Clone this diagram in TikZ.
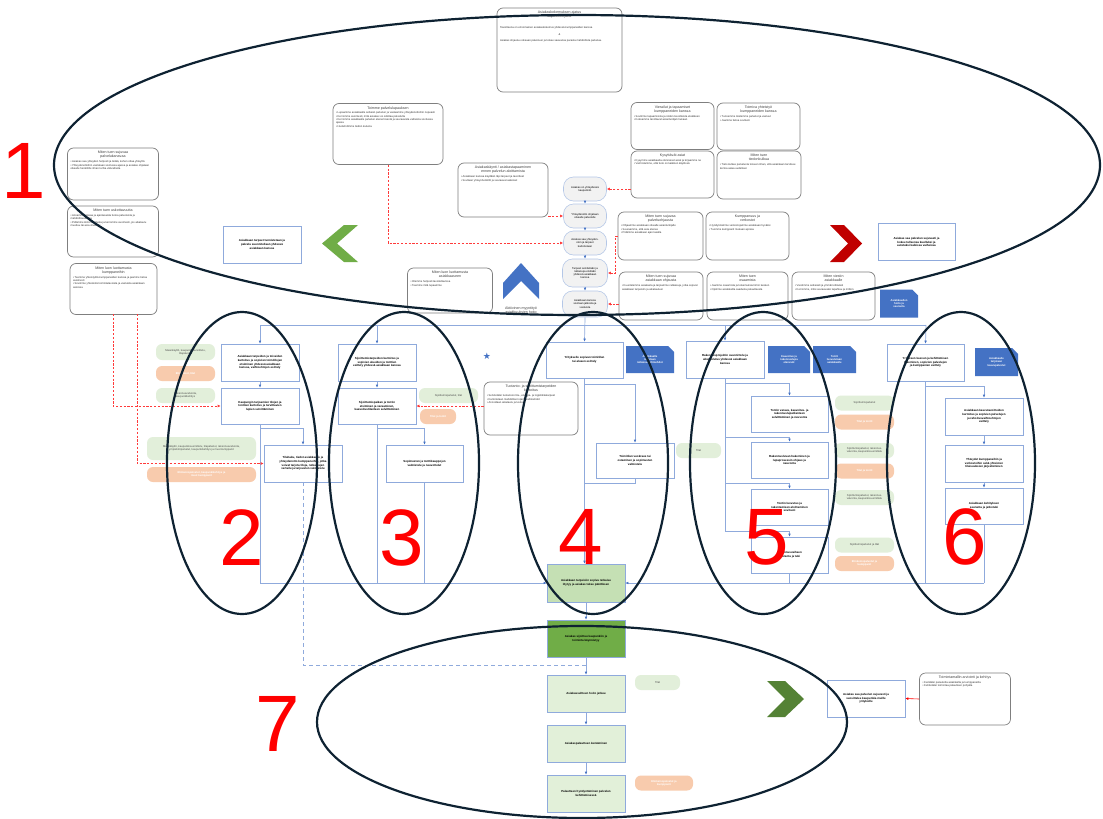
\documentclass[tikz,border=0pt]{standalone}
\usepackage{fontspec}
\setmainfont{Liberation Sans}
\newfontfamily\symfont{DejaVu Sans}
\usetikzlibrary{arrows.meta,shapes.misc,calc}

\definecolor{flowline}{HTML}{8FAADC}
\definecolor{flowarrow}{HTML}{4472C4}
\definecolor{boxgray}{HTML}{7F7F7F}
\definecolor{headgray}{HTML}{404040}
\definecolor{pillgreen}{HTML}{E2EFDA}
\definecolor{pillorange}{HTML}{F8CBAD}
\definecolor{docblue}{HTML}{4472C4}
\definecolor{ringnavy}{HTML}{0E2232}
\definecolor{greenA}{HTML}{C5E0B4}
\definecolor{greenB}{HTML}{70AD47}
\definecolor{greenC}{HTML}{E2F0D9}
\definecolor{chevgreen}{HTML}{70AD47}
\definecolor{chevdark}{HTML}{548235}
\definecolor{chevred}{HTML}{C00000}
\definecolor{pillgray}{HTML}{F2F2F2}
\definecolor{pillrim}{HTML}{B4C7E7}
\definecolor{dashred}{HTML}{FF3B3B}

\newcommand{\ftiny}{\fontsize{2.7}{3.3}\selectfont}
\newcommand{\fflow}{\fontsize{2.9}{3.6}\selectfont\bfseries}
\newcommand{\fhead}{\fontsize{3.6}{4.3}\selectfont}
% rounded info box body: width, height, heading, bullet lines
\newcommand{\gbx}[4]{\parbox[c][\dimexpr#2pt-6pt\relax][t]{\dimexpr#1pt-6pt\relax}{\centering\color{headgray}\fhead #3\par\vspace{1.5pt}\raggedright\ftiny\color{black!80}#4\par}}

\begin{document}
\begin{tikzpicture}[x=1pt,y=-1pt,
  fbox/.style 2 args={draw=flowline, fill=white, line width=0.6pt, minimum width=#1pt, minimum height=#2pt, align=center, inner sep=1pt, font=\fflow},
  gbox/.style={draw=boxgray, line width=0.7pt, rounded corners=6pt, fill=white, inner sep=3pt},
  cpill/.style 2 args={draw=pillrim, fill=pillgray, line width=0.6pt, rounded corners=10pt, minimum width=#1pt, minimum height=#2pt, align=center, inner sep=1pt, font=\ftiny},
  gpill/.style 2 args={fill=pillgreen, rounded corners=6pt, minimum width=#1pt, minimum height=#2pt, align=center, inner sep=1pt, font=\ftiny, text=black!70},
  opill/.style 2 args={fill=pillorange, rounded corners=6pt, minimum width=#1pt, minimum height=#2pt, align=center, inner sep=1pt, font=\ftiny\bfseries, text=white},
  doc/.style 2 args={chamfered rectangle, chamfered rectangle corners=north east, chamfered rectangle xsep=3pt, chamfered rectangle ysep=3pt, fill=docblue, minimum width=#1pt, minimum height=#2pt, align=center, inner sep=0.5pt, font=\ftiny\bfseries, text=white},
  grbox/.style n args={3}{draw=flowline, fill=#3, line width=0.6pt, minimum width=#1pt, minimum height=#2pt, align=center, inner sep=1pt, font=\fflow},
  flow/.style={draw=flowline, line width=0.7pt, -{Latex[length=3pt,width=2.6pt,color=flowarrow]}},
  flowl/.style={draw=flowline, line width=0.7pt},
  rdash/.style={draw=dashred, line width=0.7pt, dash pattern=on 2.2pt off 1.6pt, -{Latex[length=3pt,width=2.8pt]}},
  ring/.style={draw=ringnavy, line width=2.2pt},
  digit/.style={text=red, font=\fontsize{80}{80}\selectfont, inner sep=0pt}
]
\useasboundingbox (0,0) rectangle (1103,819);
\fill[white] (0,0) rectangle (1103,819);

% ---------------- upper area: service promise and customer path ----------------
\node[gbox] (top) at (559.5,50) {\gbx{125}{84}{Asiakaskokemuksen ajatus\\kilpailutekijäksi}{\vspace{6pt}Tavoitteena on erinomainen asiakaskokemus yhdessä kumppaneiden kanssa\par\vspace{3pt}\centering\&\par\vspace{3pt}\raggedright Asiakas ohjautuu oikeaan palveluun ja kokee saavansa parasta mahdollista palvelua.}};

\node[gbox] (lupaus) at (388,134) {\gbx{110}{61}{Toimme palvelulupauksen}{• Lupaamme asiakkaalle selkeän palvelun ja vastaamme yhteydenottoihin nopeasti\par • Kerromme avoimesti, mitä asiakas voi odottaa palvelulta\par • Kerromme asiakkaalle palvelun etenemisestä ja seuraavista vaiheista sovitussa ajassa\par • Huolehdimme tiedon kulusta}};

\node[gbox] (a1) at (113,174) {\gbx{91}{52}{Miten tuen sujuvaa\\palvelukanavaa}{• Asiakas saa yhteyden helposti ja tietää, kehen ottaa yhteyttä\par • Yhteydenottoihin vastataan sovitussa ajassa ja asiakas ohjataan oikealle henkilölle ilman turhia välivaiheita}};
\node[gbox] (a2) at (113,231.5) {\gbx{91}{51}{Miten tuen uskottavuutta}{• Annamme oikeaa ja ajantasaista tietoa palveluista ja mahdollisuuksista\par • Pidämme kiinni sovitusta ja kerromme avoimesti, jos aikataulu muuttuu tai asia viivästyy}};
\node[gbox] (a3) at (113.5,289) {\gbx{87}{51}{Miten luon luottamusta\\kumppaneihin}{• Teemme yhteistyötä kumppaneiden kanssa ja jaamme tietoa avoimesti\par • Sovimme yhteisistä toimintatavoista ja vastuista asiakkaan asioissa}};

\node[fbox={78}{37}] (lbox) at (262,244.5) {Asiakkaan tarpeet tunnistetaan ja\\palvelu suunnitellaan yhdessä\\asiakkaan kanssa};
\fill[chevgreen] (344,225) -- (358,225) -- (337,243.5) -- (358,262) -- (344,262) -- (322,243.5) -- cycle;

\node[gbox] (kaynti) at (503,190) {\gbx{90}{54}{Asiakaskäynti / asiakastapaaminen\\ennen palvelun aloittamista}{• Asiakkaan kanssa käydään läpi tarpeet ja tavoitteet\par • Sovitaan yhteyshenkilöt ja seuraavat askeleet}};

\node[cpill={43}{24}] (p1) at (585,189) {Asiakas on yhteydessä\\kaupunkiin};
\node[cpill={43}{24}] (p2) at (585,216) {Yhteydenotto ohjataan\\oikealle palvelulle};
\node[cpill={43}{24}] (p3) at (585,243) {Asiakas saa yhteyden-\\oton ja tarpeet\\kartoitetaan};
\node[cpill={45}{28}] (p4) at (585,273) {Tarpeet selvitetään ja\\ratkaisuja etsitään\\yhdessä asiakkaan\\kanssa};
\node[cpill={45}{26}] (p5) at (585,304) {Asiakkaan kanssa\\sovitaan jatkosta ja\\vastuista};
\foreach \u/\v in {p1/p2,p2/p3,p3/p4,p4/p5} \draw[flow] (\u) -- (\v);

\node[gbox] (b1) at (672.5,126) {\gbx{83}{47}{Vierailut ja tapaamiset\\kumppaneiden kanssa}{• Sovimme tapaamisista ja niiden tavoitteista etukäteen\par • Kokoamme tarvittavat asiantuntijat mukaan}};
\node[gbox] (b2) at (758.5,126.5) {\gbx{83}{47}{Toimiva yhteistyö\\kumppaneiden kanssa}{• Tunnemme toistemme palvelut ja vastuut\par • Jaamme tietoa sovitusti}};
\node[gbox] (b3) at (672.5,174.5) {\gbx{83}{47}{Kysyttävät asiat}{• Kysymme asiakkaalta olennaiset asiat ja kirjaamme ne\par • Varmistamme, että tieto on kaikkien käytössä}};
\node[gbox] (b4) at (759,175) {\gbx{84}{48}{Miten tuen\\tiedonkulkua}{• Tieto kulkee palvelusta toiseen ilman, että asiakkaan tarvitsee kertoa asiaa uudelleen}};
\node[gbox] (b5) at (660.5,236) {\gbx{85}{48}{Miten tuen sujuvaa\\palveluohjausta}{• Ohjaamme asiakkaan oikealle asiantuntijalle\par • Seuraamme, että asia etenee\par • Pidämme asiakkaan ajan tasalla}};
\node[gbox] (b6) at (747.5,236) {\gbx{83}{48}{Kumppanuus ja\\verkostot}{• Hyödynnämme verkostojamme asiakkaan hyväksi\par • Tuomme kumppanit mukaan ajoissa}};
\node[gbox] (b7) at (661,296) {\gbx{84}{48}{Miten tuen sujuvaa\\asiakkaan ohjausta}{• Kuuntelemme asiakasta ja tarjoamme ratkaisuja, jotka sopivat asiakkaan tarpeisiin ja aikatauluun}};
\node[gbox] (b8) at (747.5,296) {\gbx{81}{48}{Miten tuen\\osaamista}{• Jaamme osaamista ja kokemuksia tiimin kesken\par • Opimme asiakkailta saadusta palautteesta}};
\node[gbox] (b9) at (833.5,296) {\gbx{83}{48}{Miten viestin\\asiakkaalle}{• Viestimme selkeästi ja ymmärrettävästi\par • Kerromme, mitä seuraavaksi tapahtuu ja milloin}};

\node[doc={38}{28}] (d0) at (899,303.5) {Asiakkuuden\\hoito ja\\seuranta};
\fill[chevred] (830,225) -- (844,225) -- (862,243.5) -- (844,262) -- (830,262) -- (848,243.5) -- cycle;
\node[fbox={77}{37}] (rbox) at (916.5,242) {Asiakas saa palvelun sujuvasti ja\\kokee tulleensa kuulluksi ja\\autetuksi kaikissa vaiheissa};

\node[gbox] (mieti) at (450,290.5) {\gbx{85}{45}{Miten luon luottamusta\\asiakkaaseen}{• Olemme helposti tavoitettavissa\par • Teemme mitä lupaamme}};
\fill[docblue] (503,283) -- (521,263) -- (539,283) -- (539,299) -- (521,281) -- (503,299) -- cycle;
\node[font=\fhead, text=headgray, align=center, inner sep=0pt] (myynti) at (521,310) {Aktiivinen myyntityö\\asiakkuuksien hoito};

% red dashed links from the guidance boxes to the customer path
\draw[rdash] (lupaus.south) |- (p3.west);
\draw[rdash] (kaynti.east |- p2.west) -- (p2.west);
\draw[rdash] (b3.west |- p1.east) -- (p1.east);
\draw[rdash] (b5.west) -| ($(p4.east)+(8,0)$) -- (p4.east);
\draw[rdash] (b7.west |- p5.east) -- (p5.east);

% ---------------- process lanes ----------------
\coordinate (t2) at (260,325);
\coordinate (t3) at (377,325);
\coordinate (t5) at (725,325);
\coordinate (t6) at (926,325);
\draw[flowl] (t2) -- (t6);

% lane 2
\node[fbox={78}{37}] (c2a) at (260,362.5) {Asiakkaan tarpeiden ja toiveiden\\kartoitus ja sopivien toimitilojen\\etsiminen yhdessä asiakkaan\\kanssa, vaihtoehtojen esittely};
\node[fbox={78}{36}] (c2b) at (260,406) {Kaupungin tarjoamien tilojen ja\\tonttien kartoitus ja tarvittavien\\lupien selvittäminen};
\node[fbox={78}{37}] (c2c) at (303,463.5) {Tilahaku, tiedot asiakkaalle ja\\yhteydenotto kumppaneihin, jotka\\voivat tarjota tiloja, ratkaisujen\\vertailu ja tarjousten valmistelu};
\node[gpill={59}{16}] (g2p1) at (185.5,352) {Maankäyttö, kaupunkisuunnittelu,\\tilapalvelut};
\node[opill={59}{15}] (o2p1) at (185.5,373.5) {Elinkeinot, tilat};
\node[gpill={59}{15}] (g2p2) at (185.5,395.5) {Rakennusvalvonta,\\kaupunkikehitys};
\node[gpill={109}{23}] (g2p3) at (201.5,448.5) {Maankäyttö, kaupunkisuunnittelu, tilapalvelut, rakennusvalvonta,\\ympäristöpalvelut, kaupunkikehitys ja muut kumppanit};
\node[opill={109}{15}] (o2p2) at (201.5,474.5) {Elinkeinopalvelut, kaupunkikehitys ja\\muut kumppanit};

% lane 3
\node[fbox={78}{37}] (c3a) at (377,362.5) {Sijoittumistarpeiden kartoitus ja\\sopivien alueiden ja tonttien\\esittely yhdessä asiakkaan kanssa};
\node[fbox={78}{36}] (c3b) at (377,406) {Sijoittumispaikan ja tontin\\etsiminen ja varaaminen,\\kaavoitustilanteen selvittäminen};
\node[fbox={77}{37}] (c3c) at (424.5,463.5) {Sopimusten ja tonttikauppojen\\valmistelu ja neuvottelut};
\node[gpill={59}{15}] (g3p1) at (448.5,395.5) {Sijoittumispalvelut, tilat};
\node[opill={36}{15}] (o3p1) at (438,416.5) {Tilat ja tontit};
\node[text=flowarrow, font=\symfont\fontsize{9}{9}\selectfont, inner sep=0pt] (star) at (487,356) {★};
\node[gbox] (tuho) at (531,408.5) {\gbx{94}{53}{Tuotanto- ja sijoittumistarpeiden\\kartoitus}{• Selvitetään tuotannon tila-, energia- ja logistiikkatarpeet\par • Kartoitetaan mahdolliset sijaintivaihtoehdot\par • Arvioidaan aikataulu ja luvitus}};

% lane 4
\node[fbox={77}{36}] (c4a) at (584.5,360) {Yritykselle sopivan toimitilan\\tai alueen esittely};
\node[doc={48}{27}] (d4) at (650,359.5) {Asiakkaalle\\tarjotaan\\ratkaisuvaihtoehdot};
\node[fbox={78}{35}] (c4b) at (635,460.5) {Toimitilan vuokraus tai\\ostaminen ja sopimusten\\valmistelu};
\node[gpill={45}{15}] (g4p1) at (698.5,450.5) {Tilat};

% lane 5
\node[fbox={78}{37}] (c5a) at (725,359.5) {Rakennusprojektin suunnittelu ja\\aikataulutus yhdessä asiakkaan\\kanssa};
\node[doc={42}{27}] (d5a) at (789,359.5) {Kaavoitus ja\\rakennuslupa\\etenevät};
\node[doc={43}{27}] (d5b) at (834.5,359.5) {Tontti\\luovutetaan\\asiakkaalle};
\node[fbox={77}{36}] (c5b) at (789.5,414) {Tontin varaus, kaavoitus- ja\\rakennuslupatilanteen\\selvittäminen ja neuvonta};
\node[fbox={77}{36}] (c5c) at (789.5,460) {Rakennusluvan hakeminen ja\\lupaprosessin ohjaus ja\\neuvonta};
\node[fbox={77}{36}] (c5d) at (789.5,507) {Tontin luovutus ja\\rakentamisen aloittaminen\\sovitusti};
\node[fbox={77}{36}] (c5e) at (789.5,555) {Rakennusvaiheen\\seuranta ja tuki};
\node[gpill={59}{15}] (g5p1) at (864.5,403) {Sijoittumispalvelut};
\node[opill={59}{15}] (o5p1) at (864.5,422) {Tilat ja tontit};
\node[gpill={59}{15}] (g5p2) at (864.5,450.5) {Sijoittumispalvelut, rakennus-\\valvonta, kaupunkisuunnittelu};
\node[opill={59}{15}] (o5p2) at (864.5,471) {Tilat ja tontit};
\node[gpill={59}{15}] (g5p3) at (864.5,497.5) {Sijoittumispalvelut, rakennus-\\valvonta, kaupunkisuunnittelu};
\node[gpill={59}{15}] (g5p4) at (864.5,545) {Sijoittumispalvelut ja tilat};
\node[opill={59}{15}] (o5p3) at (864.5,563.5) {Elinkeinopalvelut ja\\kumppanit};

% lane 6
\node[fbox={77}{37}] (c6a) at (925.5,362.5) {Yrityksen kasvun ja kehittämisen\\tukeminen, sopivien palvelujen\\ja kumppanien esittely};
\node[doc={43}{28}] (d6) at (996.5,362) {Asiakkaalle\\tarjotaan\\kasvupalvelut};
\node[fbox={78}{37}] (c6b) at (984,416.5) {Asiakkaan kasvutavoitteiden\\kartoitus ja sopivien palvelujen\\ja rahoitusvaihtoehtojen\\esittely};
\node[fbox={78}{37}] (c6c) at (984,463.5) {Yhteydet kumppaneihin ja\\verkostoihin sekä yhteisten\\tilaisuuksien järjestäminen};
\node[fbox={78}{36}] (c6d) at (984,506) {Asiakkaan kehityksen\\seuranta ja jatkotuki};

% ---------------- common end of the lanes ----------------
\node[grbox={78}{38}{greenA}] (g1) at (586,583) {Asiakkaan tarpeisiin sopiva ratkaisu\\löytyy ja asiakas tekee päätöksen};
\node[grbox={78}{37}{greenB}] (g2) at (586,638.5) {Asiakas sijoittuu kaupunkiin ja\\toiminta käynnistyy};
\node[grbox={78}{37}{greenC}] (g3) at (586,693.5) {Asiakassuhteen hoito jatkuu};
\node[grbox={78}{37}{greenC}] (g4) at (586,743.5) {Asiakaspalautteen kerääminen};
\node[grbox={78}{37}{greenC}] (g5) at (586,793.5) {Palautteen hyödyntäminen palvelun\\kehittämisessä};
\node[gpill={45}{15}] (g7p1) at (657.5,682.5) {Tilat};
\node[opill={58}{15}] (o7p1) at (664,783) {Elinkeinopalvelut ja\\kumppanit};
\fill[chevdark] (767,681) -- (785,681) -- (804,699) -- (785,717) -- (767,717) -- (785,699) -- cycle;
\node[fbox={78}{37}] (rb) at (866,698.5) {Asiakas saa palvelun sujuvasti ja\\suosittelee kaupunkia muille\\yrityksille};
\node[gbox] (toim) at (965,699) {\gbx{91}{52}{Toimintamallin arviointi ja kehitys}{• Kerätään palautetta asiakkailta ja kumppaneilta\par • Kehitetään toimintaa palautteen pohjalta}};
\draw[draw=red, line width=0.6pt, -{Latex[length=3pt,width=2.8pt]}] (toim.west) -- (rb.east);

% ---------------- connectors of the lanes ----------------
\draw[flow] (p5.south) -- (c4a.north);
\draw[flow] (t2) -- (c2a.north);
\draw[flow] (t3) -- (c3a.north);
\draw[flow] (t5) -- (c5a.north);
\draw[flow] (t6) -- (c6a.north);

\coordinate (u2) at (260,583);
\coordinate (u6) at (984,583);
\draw[flow] (c2a) -- (c2b);
\draw[flowl] (c2b.south) -- (u2);
\draw[flow] ($(c2b.south)+(0,4)$) -| (c2c.north);
\coordinate (j7) at (586,665);
\draw[flowl, dashed, dash pattern=on 4pt off 3pt] (c2c.south) |- (j7);

\draw[flow] (c3a) -- (c3b);
\draw[flowl] (c3b.south) -- (c3b.south |- u2);
\draw[flow] ($(c3b.south)+(0,4)$) -| (c3c.north);
\draw[flowl] (c3c.south) -- (c3c.south |- u2);

\draw[flow] (c4a.south) -- (c4a.south |- g1.north);
\draw[flow] ($(c4a.south)+(0,6)$) -| (c4b.north);
\draw[flowl] (c4b.south) -- ++(0,5) -| ($(c4a.south)+(0,105)$);

\draw[flowl] (c5a.south) -- (725,531);
\draw[flow] (725,383) -| (c5b.north);
\draw[flow] (725,437) -| (c5c.north);
\draw[flow] (725,483) -| (c5d.north);
\draw[flow] (725,531) -| (c5e.north);
\draw[flowl] (c5e.south) -- (c5e.south |- u2);

\draw[flowl] (c6a.south) -- (c6a.south |- u6);
\draw[flow] (926,386) -| (c6b.north);
\draw[flow] (c6b) -- (c6c);
\draw[flow] (c6c) -- (c6d);
\draw[flowl] (c6d.south) -- (u6);

\draw[flow] (u2) -- (g1.west);
\draw[flow] (u6) -- (g1.east);
\draw[flow] (g1) -- (g2);
\draw[flow] (g2) -- (g3);
\draw[flow] (g3) -- (g4);
\draw[flow] (g4) -- (g5);

% red dashed links into the lanes
\draw[rdash] (113,314) |- (c2b.west);
\draw[rdash] (137,314) |- (c2c.west);
\draw[rdash] (tuho.west |- c3b.east) -- (c3b.east);

% ---------------- phase rings and numbers ----------------
\draw[ring] (577,165) ellipse [x radius=523pt, y radius=150pt];
\draw[ring] (242,463) ellipse [x radius=75pt, y radius=151pt];
\draw[ring] (404,463) ellipse [x radius=75pt, y radius=151pt];
\draw[ring] (593,463) ellipse [x radius=75pt, y radius=151pt];
\draw[ring] (763,463) ellipse [x radius=73pt, y radius=151pt];
\draw[ring] (961,463) ellipse [x radius=74pt, y radius=151pt];
\draw[ring] (582,722) ellipse [x radius=265pt, y radius=96pt];

\node[digit] (n1) at (24,171) {1};
\node[digit] (n2) at (242,538) {2};
\node[digit] (n3) at (402,538) {3};
\node[digit] (n4) at (581,537) {4};
\node[digit] (n5) at (767,537) {5};
\node[digit] (n6) at (965,537) {6};
\node[digit] (n7) at (278,724) {7};
\end{tikzpicture}
\end{document}
